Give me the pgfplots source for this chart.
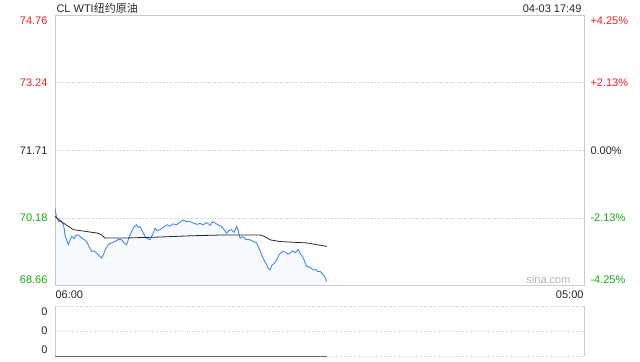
\documentclass[border=0pt]{standalone}
\usepackage{pgfplots}
\pgfplotsset{compat=1.18}
\usepackage{fontspec}
\setmainfont{Liberation Sans}
\newfontfamily\cjk{Noto Sans CJK SC}
\definecolor{upred}{RGB}{240,35,35}
\definecolor{dngreen}{RGB}{20,170,20}
\definecolor{lineblue}{RGB}{70,135,235}
\definecolor{boxgray}{RGB}{204,204,204}
\definecolor{gridgray}{RGB}{200,200,200}
\pgfplotstableread{
t p
0 70.41
2 70.30
4.4 70.18
10 70.10
16 70.12
21.7 70.03
24 69.95
26 69.80
30 69.70
34.7 69.58
39 69.68
43.6 69.77
50 69.72
55 69.79
60.8 69.80
66 69.76
69.7 69.73
76 69.70
82.7 69.65
88 69.55
95.7 69.43
102 69.44
108.8 69.39
115 69.33
121.8 69.28
126 69.35
132 69.48
139 69.58
147 69.62
156.5 69.65
165 69.70
174 69.69
180 69.62
187 69.58
193 69.75
200 69.88
206 69.98
213 70.03
217 69.97
221.7 69.99
228 69.88
234.8 69.77
241 69.72
247.8 69.69
254 69.80
260.9 69.95
267 69.90
274 69.92
282 69.97
291.4 70.03
300 70.00
308 70.05
317.5 70.03
326 70.09
334.7 70.14
342 70.10
350 70.11
360.8 70.07
370 70.04
378 70.06
386.9 70.03
395 70.08
405 70.02
411 70.10
417.4 70.07
425 70.03
434.8 69.99
441 69.92
447.8 69.84
454 69.90
460.9 69.92
467 69.86
474 69.99
478 69.90
482.6 69.73
490 69.76
498 69.70
508.7 69.69
516 69.66
526.2 69.62
532 69.50
539.2 69.35
546 69.22
552.3 69.13
556 69.05
560.9 69.01
566 69.12
572 69.16
578.3 69.24
584 69.35
590 69.40
595.6 69.43
602 69.41
608 69.36
613 69.39
620 69.44
627 69.40
634.7 69.47
640 69.38
647.8 69.28
652 69.18
656.6 69.09
662 69.08
668 69.05
673.8 69.01
680 69.02
686 68.97
691 68.98
695.7 68.94
700 68.90
704 68.85
708.8 68.75
}\price
\pgfplotstableread{
t a
0 70.22
20 70.08
47.8 69.92
80 69.88
112 69.84
122 69.80
130 69.73
178 69.73
265 69.75
352 69.78
439 69.80
535 69.80
548 69.76
561 69.69
587 69.65
657 69.62
709 69.54
}\avg
\pgfplotstableread{
t v
0 0
709 0
}\vol
\begin{document}
\begin{tikzpicture}[font=\fontsize{11bp}{13bp}\selectfont]
\path (0bp,0bp) rectangle (640bp,-360bp);
% main panel
\begin{axis}[
  at={(55bp,-284bp)}, anchor=south west,
  width=529bp, height=270bp, scale only axis,
  xmin=0, xmax=1380, ymin=68.66, ymax=74.76,
  axis line style={boxgray},
  xtick=\empty,
  ytick={70.18,71.71,73.24},
  yticklabels={},
  major tick length=0pt,
  ymajorgrids,
  grid style={gridgray, dotted, line width=0.5pt},
  clip=true,
]
\addplot[draw=none, fill=lineblue, fill opacity=0.05] table[x=t,y=p]{\price} \closedcycle;
\addplot[lineblue, line width=0.9pt] table[x=t,y=p]{\price};
\addplot[black!85, line width=0.8pt] table[x=t,y=a]{\avg};
\end{axis}
% left labels
\node[anchor=east, text=upred] at (51bp,-19bp) {74.76};
\node[anchor=east, text=upred] at (51bp,-81bp) {73.24};
\node[anchor=east, text=black!85] at (51bp,-149bp) {71.71};
\node[anchor=east, text=dngreen] at (51bp,-216bp) {70.18};
\node[anchor=east, text=dngreen] at (51bp,-278bp) {68.66};
% right labels
\node[anchor=west, text=upred] at (587bp,-19bp) {+4.25\%};
\node[anchor=west, text=upred] at (587bp,-81bp) {+2.13\%};
\node[anchor=west, text=black!85] at (587bp,-149bp) {0.00\%};
\node[anchor=west, text=dngreen] at (587bp,-216bp) {-2.13\%};
\node[anchor=west, text=dngreen] at (587bp,-278bp) {-4.25\%};
% title / time
\node[anchor=west, text=black!85] at (53bp,-7bp) {CL WTI{\cjk 纽约原油}};
\node[anchor=east, text=black!85] at (585bp,-7bp) {04-03 17:49};
\node[anchor=east, text=black!30] at (574bp,-278bp) {sina.com};
\node[anchor=west, text=black!85] at (52bp,-293bp) {06:00};
\node[anchor=east, text=black!85] at (587bp,-293bp) {05:00};
% volume panel
\begin{axis}[
  at={(55bp,-355bp)}, anchor=south west,
  width=529bp, height=50bp, scale only axis,
  xmin=0, xmax=1380, ymin=0, ymax=2,
  axis lines=none,
  xtick=\empty, ytick=\empty,
  clip=false,
]
\draw[gridgray, dotted, line width=0.5pt] (rel axis cs:0,1) -- (rel axis cs:1,1);
\draw[gridgray, dotted, line width=0.5pt] (rel axis cs:0,0.5) -- (rel axis cs:1,0.5);
\draw[gridgray, dotted, line width=0.5pt] (rel axis cs:0,0) -- (rel axis cs:1,0);
\draw[boxgray, line width=0.5pt] (rel axis cs:0,0) -- (rel axis cs:0,1);
\draw[boxgray, line width=0.5pt] (rel axis cs:1,0) -- (rel axis cs:1,1);
\addplot[black!60, line width=1.2pt] table[x=t,y=v]{\vol};
\end{axis}
\node[anchor=east, text=black!85] at (51bp,-310bp) {0};
\node[anchor=east, text=black!85] at (51bp,-329bp) {0};
\node[anchor=east, text=black!85] at (51bp,-348bp) {0};
\end{tikzpicture}
\end{document}
